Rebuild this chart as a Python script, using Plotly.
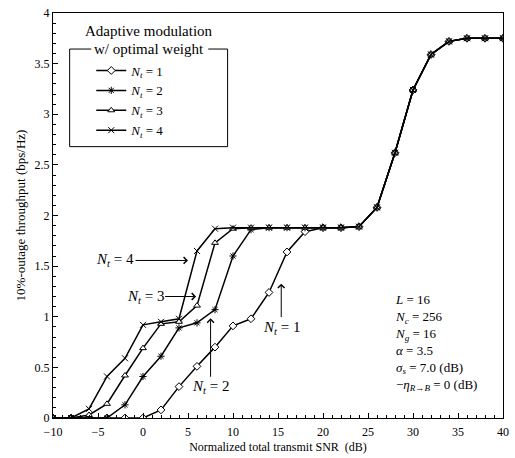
import plotly.graph_objects as go

snr_db = [-10, -8, -6, -4, -2, 0, 2, 4, 6, 8, 10, 12, 14, 16, 18, 20, 22, 24, 26, 28, 30, 32, 34, 36, 38, 40]
upper = [2.08, 2.62, 3.24, 3.59, 3.72, 3.75, 3.75, 3.75]  # shared part for 26..40 dB

nt1 = [0, 0, 0, 0, 0, 0, 0.08, 0.31, 0.51, 0.70, 0.91, 0.98, 1.24, 1.64, 1.84, 1.88, 1.88, 1.89] + upper
nt2 = [0, 0, 0, 0, 0.13, 0.41, 0.61, 0.89, 0.94, 1.07, 1.60, 1.86, 1.88, 1.88, 1.88, 1.88, 1.88, 1.89] + upper
nt3 = [0, 0, 0.03, 0.14, 0.42, 0.69, 0.93, 0.95, 1.11, 1.73, 1.87, 1.88, 1.88, 1.88, 1.88, 1.88, 1.88, 1.89] + upper
nt4 = [0, 0, 0.09, 0.41, 0.59, 0.92, 0.95, 0.98, 1.65, 1.87, 1.88, 1.88, 1.88, 1.88, 1.88, 1.88, 1.88, 1.89] + upper

series_names = ["<i>N<sub>t</sub></i> = 1", "<i>N<sub>t</sub></i> = 2",
                "<i>N<sub>t</sub></i> = 3", "<i>N<sub>t</sub></i> = 4"]
series_vals = [nt1, nt2, nt3, nt4]
symbols = ["diamond", "asterisk-open", "triangle-up", "x-thin-open"]
fills = ["white", "black", "white", "black"]

FONT = "Liberation Serif"

fig = go.Figure()
for name, vals, sym, fc in zip(series_names, series_vals, symbols, fills):
    fig.add_trace(go.Scatter(
        x=snr_db, y=vals, name=name, mode="lines+markers",
        line=dict(color="black", width=1.5),
        marker=dict(symbol=sym, size=6, color=fc, line=dict(color="black", width=1)),
    ))

ann = []
arrow_specs = [
    ("<i>N<sub>t</sub></i> = 4", 5.0, 1.556, -73, 0),
    ("<i>N<sub>t</sub></i> = 3", 5.9, 1.20, -51, 0),
    ("<i>N<sub>t</sub></i> = 2", 7.51, 0.985, 0, 69),
    ("<i>N<sub>t</sub></i> = 1", 15.36, 1.327, 0, 44),
]
for txt, x, y, ax, ay in arrow_specs:
    ann.append(dict(x=x, y=y, xref="x", yref="y", text=txt, showarrow=True,
                    ax=ax, ay=ay, arrowhead=4, arrowsize=1.3, arrowwidth=1,
                    arrowcolor="black", font=dict(family=FONT, size=15, color="black")))

params = ("<i>L</i> = 16<br><i>N<sub>c</sub></i> = 256<br><i>N<sub>g</sub></i> = 16<br>"
          "<i>α</i> = 3.5<br><i>σ<sub>s</sub></i> = 7.0 (dB)<br>"
          "−<i>η</i><sub><i>R</i>→<i>B</i></sub> = 0 (dB)")
ann.append(dict(x=0.755, y=0.315, xref="paper", yref="paper", xanchor="left", yanchor="top",
                text=params, showarrow=False, align="left",
                font=dict(family=FONT, size=13, color="black")))
ann.append(dict(x=0.213, y=0.956, xref="paper", yref="paper", xanchor="center", yanchor="middle",
                text="Adaptive modulation", showarrow=False,
                font=dict(family=FONT, size=15, color="black")))
ann.append(dict(x=0.213, y=0.911, xref="paper", yref="paper", xanchor="center", yanchor="middle",
                text="w/ optimal weight", showarrow=False,
                font=dict(family=FONT, size=15, color="black")))

shapes = [dict(type="path", xref="paper", yref="paper",
               path="M 0.085,0.911 L 0.037,0.911 L 0.037,0.67 L 0.388,0.67 L 0.388,0.911 L 0.345,0.911",
               line=dict(color="black", width=1))]

fig.update_layout(
    width=515, height=458,
    margin=dict(l=53, r=6, t=12, b=40),
    paper_bgcolor="white", plot_bgcolor="white",
    font=dict(family=FONT, size=12, color="black"),
    showlegend=True,
    legend=dict(x=0.085, y=0.895, xanchor="left", yanchor="top",
                bgcolor="rgba(0,0,0,0)", borderwidth=0,
                font=dict(family=FONT, size=13, color="black"),
                tracegroupgap=0, itemwidth=30),
    annotations=ann, shapes=shapes,
    xaxis=dict(range=[-10, 40], dtick=5, tick0=-10, showgrid=False, zeroline=False,
               showline=True, linecolor="black", linewidth=1, mirror=True,
               ticks="inside", ticklen=5, tickcolor="black", ticklabelstandoff=3,
               ticklabeloverflow="allow",
               minor=dict(dtick=1, ticks="inside", ticklen=3, tickcolor="black", showgrid=False),
               title=dict(text="Normalized total transmit SNR  (dB)", font=dict(size=12), standoff=4),
               tickfont=dict(size=12)),
    yaxis=dict(range=[0, 4], dtick=0.5, showgrid=False, zeroline=False,
               showline=True, linecolor="black", linewidth=1, mirror=True,
               ticks="inside", ticklen=5, tickcolor="black",
               ticklabeloverflow="allow",
               minor=dict(dtick=0.1, ticks="inside", ticklen=3, tickcolor="black", showgrid=False),
               title=dict(text="10%-outage throughput (bps/Hz)", font=dict(size=13), standoff=6),
               tickfont=dict(size=12)),
)

fig.write_html("out.html", config={"displayModeBar": False},
               post_script="document.body.style.margin='0';")
